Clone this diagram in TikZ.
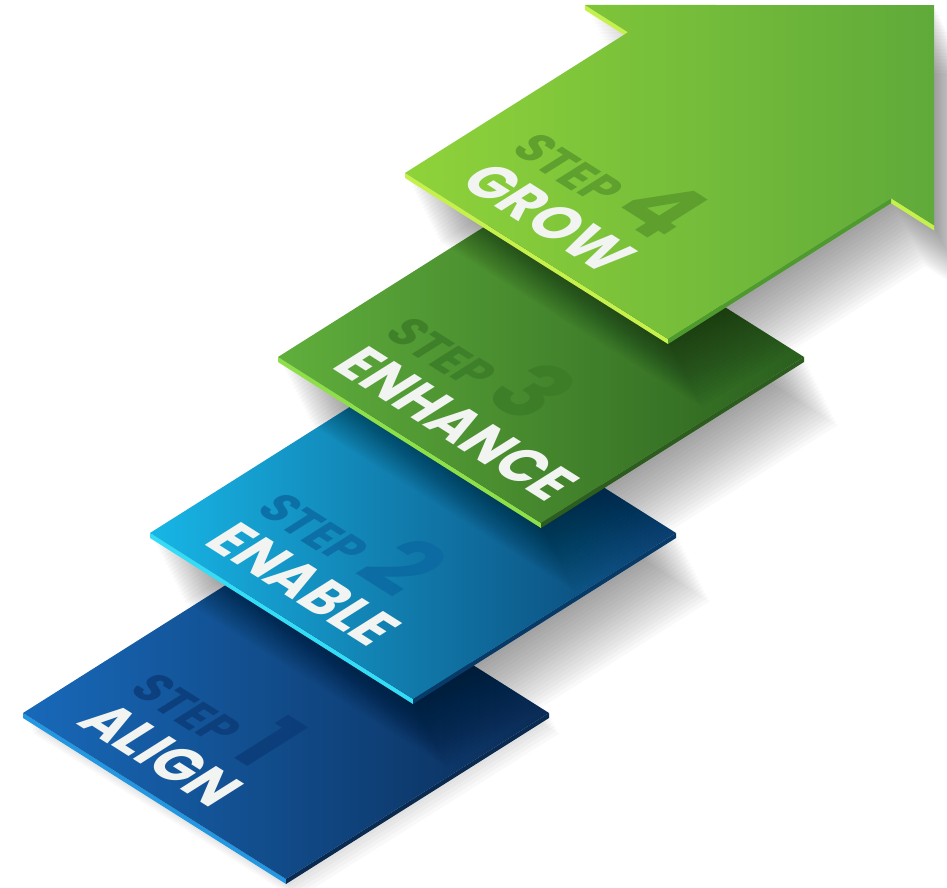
\documentclass[tikz,border=0pt]{standalone}
\usepackage{fontspec}
\newfontfamily\stepfont{Poppins}

% plate colours
\definecolor{alignL}{HTML}{1869BA}
\definecolor{alignM}{HTML}{0E52A0}
\definecolor{alignR}{HTML}{0A2B55}
\definecolor{alignEdge}{HTML}{2398E0}
\definecolor{alignSide}{HTML}{0A2A50}
\definecolor{alignStep}{HTML}{0B3C78}
\definecolor{enableL}{HTML}{17B6E6}
\definecolor{enableM}{HTML}{0A8CCC}
\definecolor{enableR}{HTML}{0A3D6E}
\definecolor{enableEdge}{HTML}{35DCF5}
\definecolor{enableSide}{HTML}{083A68}
\definecolor{enableStep}{HTML}{0B6AA2}
\definecolor{enhanceL}{HTML}{60AF3C}
\definecolor{enhanceM}{HTML}{4C9833}
\definecolor{enhanceR}{HTML}{2A5F1E}
\definecolor{enhanceEdge}{HTML}{8EDF48}
\definecolor{enhanceSide}{HTML}{2C5C1E}
\definecolor{enhanceStep}{HTML}{3C7C28}
\definecolor{growL}{HTML}{8FD33A}
\definecolor{growM}{HTML}{7CC337}
\definecolor{growR}{HTML}{5FAA3A}
\definecolor{growEdge}{HTML}{C6F04C}
\definecolor{growSide}{HTML}{4E9A2E}
\definecolor{growStep}{HTML}{5A9A2C}
\definecolor{nameWhite}{HTML}{F2F4F2}

\newcommand{\bignum}{\fontsize{86}{86}\selectfont}

\begin{document}
\begin{tikzpicture}[x=1pt,y=1pt,
    onplate/.style={cm={0.8456,-0.5337,0.9724,0.6138,(0,0)}, anchor=base west, inner sep=0pt},
    steplbl/.style={onplate, font=\stepfont\bfseries\fontsize{44}{44}\selectfont, text opacity=0.85},
    namelbl/.style={onplate, font=\stepfont\bfseries\fontsize{53}{53}\selectfont, text=nameWhite},
    shadowlayer/.style={fill=black, fill opacity=0.022, shift={(#1*1.7pt,-#1*3.4pt)}}
]
    \useasboundingbox (0,0) rectangle (947,887);

    % step 1
    \begin{scope}[shift={(23,174)}, x={(263pt,-166pt)}, y={(263pt,166pt)}]
        \foreach \k in {1,...,6}
            \path[shadowlayer=\k] (0,0) -- (1,0) -- (1,1) -- (0,1) -- cycle;
        \fill[alignEdge] (0,0) -- (1,0) -- ++(0pt,-5pt) -- ++(-1,0) -- cycle;
        \fill[alignSide] (1,0) -- (1,1) -- ++(0pt,-5pt) -- ++(0,-1) -- cycle;
        \shade[left color=alignL, middle color=alignM, right color=alignR] (0,0) -- (1,0) -- (1,1) -- (0,1) -- cycle;
        \node[steplbl, text=alignStep] (step1) at (0.13,0.265) {STEP\hspace{12pt}{\bignum 1}};
        \node[namelbl] (align) at (0.13,0.07) {ALIGN};
    \end{scope}

    % step 2
    \begin{scope}[shift={(150,354)}, x={(263pt,-166pt)}, y={(263pt,166pt)}]
        \foreach \k in {1,...,20}
            \path[shadowlayer=\k] (0,0) -- (1,0) -- (1,1) -- (0,1) -- cycle;
        \fill[enableEdge] (0,0) -- (1,0) -- ++(0pt,-5pt) -- ++(-1,0) -- cycle;
        \fill[enableSide] (1,0) -- (1,1) -- ++(0pt,-5pt) -- ++(0,-1) -- cycle;
        \shade[left color=enableL, middle color=enableM, right color=enableR] (0,0) -- (1,0) -- (1,1) -- (0,1) -- cycle;
        \node[steplbl, text=enableStep] (step2) at (0.13,0.265) {STEP\hspace{12pt}{\bignum 2}};
        \node[namelbl] (enable) at (0.13,0.07) {ENABLE};
    \end{scope}

    % step 3
    \begin{scope}[shift={(278,530)}, x={(263pt,-166pt)}, y={(263pt,166pt)}]
        \foreach \k in {1,...,20}
            \path[shadowlayer=\k] (0,0) -- (1,0) -- (1,1) -- (0,1) -- cycle;
        \fill[enhanceEdge] (0,0) -- (1,0) -- ++(0pt,-5pt) -- ++(-1,0) -- cycle;
        \fill[enhanceSide] (1,0) -- (1,1) -- ++(0pt,-5pt) -- ++(0,-1) -- cycle;
        \shade[left color=enhanceL, middle color=enhanceM, right color=enhanceR] (0,0) -- (1,0) -- (1,1) -- (0,1) -- cycle;
        \node[steplbl, text=enhanceStep] (step3) at (0.13,0.265) {STEP\hspace{12pt}{\bignum 3}};
        \node[namelbl] (enhance) at (0.13,0.07) {ENHANCE};
    \end{scope}

    % step 4 (arrow)
    \begin{scope}[shift={(405,714)}, x={(263pt,-166pt)}, y={(263pt,166pt)}]
        \foreach \k in {1,...,20}
            \path[shadowlayer=\k] (0,0) -- (1,0) -- (1,0.848) -- (1.164,0.848) -- (0.5,1.512) -- (-0.164,0.848) -- (0,0.848) -- cycle;
        \fill[growEdge] (0,0) -- (1,0) -- ++(0pt,-5pt) -- ++(-1,0) -- cycle;
        \fill[growEdge] (1,0.848) -- (1.164,0.848) -- ++(0pt,-5pt) -- ++(-0.164,0) -- cycle;
        \fill[growEdge] (-0.164,0.848) -- (0,0.848) -- ++(0pt,-5pt) -- ++(-0.164,0) -- cycle;
        \fill[growSide] (1,0) -- (1,0.848) -- ++(0pt,-5pt) -- ++(0,-0.848) -- cycle;
        \shade[left color=growL, middle color=growM, right color=growR] (0,0) -- (1,0) -- (1,0.848) -- (1.164,0.848) -- (0.5,1.512) -- (-0.164,0.848) -- (0,0.848) -- cycle;
        \node[steplbl, text=growStep] (step4) at (0.13,0.265) {STEP\hspace{12pt}{\bignum 4}};
        \node[namelbl] (grow) at (0.13,0.07) {GROW};
    \end{scope}
\end{tikzpicture}
\end{document}
